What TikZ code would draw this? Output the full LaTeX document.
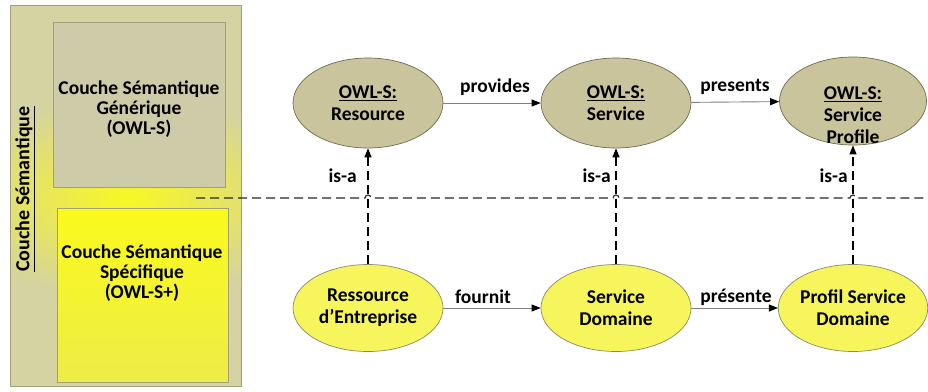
\documentclass[tikz,border=0pt]{standalone}
\usepackage{fontspec}
\setmainfont{Carlito}
\usetikzlibrary{arrows.meta,shapes.geometric,fadings}
\definecolor{outerbg}{HTML}{D5D3A1}
\definecolor{glowc}{HTML}{F8F824}
\definecolor{topboxc}{HTML}{CECBA8}
\definecolor{boxline}{HTML}{A2A07A}
\definecolor{botboxtop}{HTML}{FAFA1C}
\definecolor{botboxbot}{HTML}{EEEC48}
\definecolor{topellc}{HTML}{C9C49C}
\definecolor{topelld}{HTML}{6E6A50}
\definecolor{botellc}{HTML}{F7F55C}
\definecolor{botelld}{HTML}{8C8A66}
\definecolor{arrowline}{HTML}{808080}
\tikzfading[name=glowfade, inner color=transparent!0, outer color=transparent!100]
\tikzset{
  txt/.style={font=\bfseries\fontsize{19.5}{22}\selectfont, align=center, text=black},
  boxtxt/.style={txt, font=\bfseries\fontsize{19.5}{20}\selectfont},
  topell/.style={ellipse, draw=topelld, line width=0.7pt, fill=topellc, minimum width=150pt, minimum height=90pt, inner sep=0pt, txt},
  botell/.style={ellipse, draw=botelld, line width=0.7pt, fill=botellc, minimum width=150pt, minimum height=87pt, inner sep=0pt, txt},
  rel/.style={draw=arrowline, line width=0.9pt, -{Triangle[length=9pt,width=7pt,color=black]}},
  isa/.style={draw=black, line width=1.1pt, dash pattern=on 9pt off 5pt, -{Triangle[length=9pt,width=7pt,color=black]}},
  sep/.style={draw=black!85, line width=1.1pt, dash pattern=on 9pt off 5pt},
  lbl/.style={txt, inner sep=1pt},
}
\begin{document}
\begin{tikzpicture}[x=1pt,y=-1pt]
\useasboundingbox (0,0) rectangle (928,391);
% left panel
\fill[outerbg] (10,5) rectangle (241,386);
\begin{scope}
  \clip (10,5) rectangle (241,386);
  \fill[glowc, path fading=glowfade, fit fading=true] (128,198) ellipse (190 and 100);
\end{scope}
\draw[boxline, line width=0.8pt] (10,5) rectangle (241,386);
\fill[topboxc, draw=boxline, line width=0.8pt] (53,22) rectangle (225,187);
\shade[top color=botboxtop, bottom color=botboxbot] (57,208) rectangle (228,382);
\draw[boxline, line width=0.8pt] (57,208) rectangle (228,382);
\node[boxtxt] (gen) at (139,109) {Couche Sémantique\\Générique\\(OWL-S)};
\node[boxtxt] (spe) at (142,273) {Couche Sémantique\\Spécifique\\(OWL-S+)};
\node[txt, font=\bfseries\fontsize{20}{22}\selectfont, rotate=90] (side) at (25,189) {\underline{Couche Sémantique}};
% ellipses
\node[topell] (res) at (368,103) {\underline{OWL-S:}\\Resource};
\node[topell] (svc) at (616,103) {\underline{OWL-S:}\\Service};
\node[topell, minimum width=147pt, minimum height=88pt] (prof) at (853,101) {};
\node[txt] (proft) at (853,115) {\underline{OWL-S:}\\Service\\Profile};
\node[botell] (ress) at (368,308) {Ressource\\d’Entreprise};
\node[botell] (sdom) at (616,308) {Service\\Domaine};
\node[botell, minimum width=147pt] (pdom) at (853,308) {Profil Service\\Domaine};
% horizontal relations
\draw[rel] (res) -- (svc);
\draw[rel] (svc) -- (prof);
\draw[rel] (ress) -- (sdom);
\draw[rel] (sdom) -- (pdom);
\node[lbl] (lp) at (495,87) {provides};
\node[lbl] (lpr) at (735,87) {presents};
\node[lbl] (lf) at (483,297) {fournit};
\node[lbl] (lpe) at (736,297) {présente};
% separator with hops
\coordinate (hl) at (196,198);
\coordinate (hr) at (928,198);
\draw[sep] (hl) -- (365,198) arc[start angle=180, end angle=360, radius=3]
  -- (613,198) arc[start angle=180, end angle=360, radius=3]
  -- (850,198) arc[start angle=180, end angle=360, radius=3] -- (hr);
% is-a
\draw[isa] (ress) -- (res);
\draw[isa] (sdom) -- (svc);
\draw[isa] (pdom.north) -- (prof.south);
\node[lbl, anchor=east] (i1) at (358,176) {is-a};
\node[lbl, anchor=east] (i2) at (612,176) {is-a};
\node[lbl, anchor=east] (i3) at (849,176) {is-a};
\end{tikzpicture}
\end{document}
